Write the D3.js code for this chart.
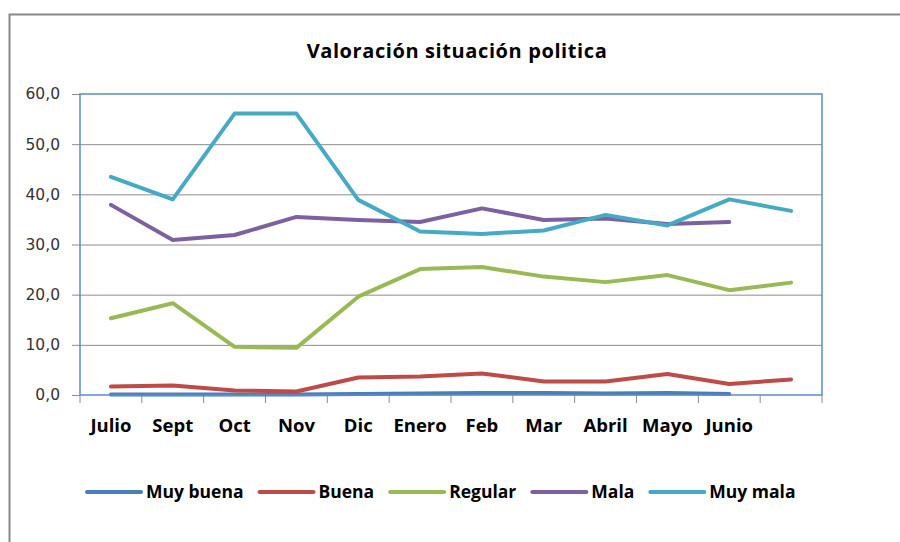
<!DOCTYPE html>
<html lang="es">
<head>
<meta charset="UTF-8">
<title>Valoración situación politica</title>
<script src="https://cdn.jsdelivr.net/npm/d3@7"></script>
<style>
    body { margin: 0; background: #fff; }
    svg { display: block; font-family: "Open Sans", Lato, sans-serif; }
</style>
</head>
<body>
<div id="chart"></div>
<script>
    const width = 900;
    const height = 542;

    // months on the x axis (last slot has no label)
    const months = ["Julio", "Sept", "Oct", "Nov", "Dic", "Enero", "Feb", "Mar", "Abril", "Mayo", "Junio", ""];
    const yTicks = [0, 10, 20, 30, 40, 50, 60];

    const muyBuena = [0.1, 0.1, 0.1, 0.1, 0.2, 0.3, 0.4, 0.4, 0.3, 0.4, 0.2];
    const buena    = [1.7, 1.9, 0.9, 0.7, 3.5, 3.7, 4.3, 2.7, 2.7, 4.2, 2.2, 3.1];
    const regular  = [15.3, 18.3, 9.6, 9.4, 19.6, 25.1, 25.5, 23.6, 22.5, 23.9, 20.9, 22.4];
    const mala     = [37.9, 30.9, 31.9, 35.5, 34.9, 34.5, 37.2, 34.9, 35.2, 34.1, 34.5];
    const muyMala  = [43.5, 39.0, 56.1, 56.1, 38.9, 32.6, 32.1, 32.8, 35.9, 33.8, 39.0, 36.7];

    const seriesNames = ["Muy buena", "Buena", "Regular", "Mala", "Muy mala"];
    const seriesColors = ["#4A7EBB", "#BE4B48", "#98B954", "#7D60A0", "#46AAC5"];
    const seriesValues = [muyBuena, buena, regular, mala, muyMala];

    const plot = { left: 80, right: 822, top: 94, bottom: 395 };

    const svg = d3.select("#chart").append("svg")
        .attr("width", width)
        .attr("height", height);

    // outer chart frame
    svg.append("rect")
        .attr("x", 9.5).attr("y", 14.5)
        .attr("width", 900).attr("height", 540)
        .attr("fill", "#fff")
        .attr("stroke", "#878787")
        .attr("stroke-width", 2);

    svg.append("text")
        .attr("x", 457).attr("y", 58)
        .attr("text-anchor", "middle")
        .attr("font-weight", "bold")
        .attr("font-size", 20)
        .attr("letter-spacing", 0.6)
        .attr("fill", "#000")
        .text("Valoración situación politica");

    const x = d3.scaleBand()
        .domain(months.map((m, i) => i))
        .range([plot.left, plot.right])
        .padding(0);

    const y = d3.scaleLinear()
        .domain([0, 60])
        .range([plot.bottom, plot.top]);

    // gridlines
    svg.append("g")
        .selectAll("line")
        .data(yTicks.slice(1, -1))
        .join("line")
        .attr("x1", plot.left).attr("x2", plot.right)
        .attr("y1", d => y(d) + 0.5).attr("y2", d => y(d) + 0.5)
        .attr("stroke", "#8C8C8C")
        .attr("stroke-width", 1);

    // y axis
    const yAxis = svg.append("g")
        .attr("transform", `translate(${plot.left},0)`)
        .call(d3.axisLeft(y).tickValues(yTicks).tickSize(8).tickPadding(12)
            .tickFormat(d => d3.format(".1f")(d).replace(".", ",")));
    yAxis.select(".domain").remove();
    yAxis.selectAll(".tick line").attr("stroke", "#8C8C8C");
    yAxis.selectAll("text")
        .attr("font-size", 15.5)
        .attr("fill", "#333")
        .attr("font-family", "\"DejaVu Sans\", sans-serif");

    // x tick marks at category edges
    const edges = months.map((m, i) => x(i)).concat([plot.right]);
    svg.append("g")
        .selectAll("line")
        .data(edges)
        .join("line")
        .attr("x1", d => d).attr("x2", d => d)
        .attr("y1", plot.bottom).attr("y2", plot.bottom + 8)
        .attr("stroke", "#8C8C8C");

    svg.append("g")
        .selectAll("text")
        .data(months)
        .join("text")
        .attr("x", (d, i) => x(i) + x.bandwidth() / 2)
        .attr("y", 432)
        .attr("text-anchor", "middle")
        .attr("font-weight", "bold")
        .attr("font-size", 18.5)
        .attr("fill", "#000")
        .text(d => d);

    // lines
    const line = d3.line()
        .x((d, i) => x(i) + x.bandwidth() / 2)
        .y(d => y(d));

    svg.append("g")
        .selectAll("path")
        .data(seriesValues)
        .join("path")
        .attr("d", d => line(d))
        .attr("fill", "none")
        .attr("stroke", (d, i) => seriesColors[i])
        .attr("stroke-width", 4)
        .attr("stroke-linejoin", "round")
        .attr("stroke-linecap", "round");

    // plot area border
    svg.append("rect")
        .attr("x", plot.left).attr("y", plot.top)
        .attr("width", plot.right - plot.left)
        .attr("height", plot.bottom - plot.top)
        .attr("fill", "none")
        .attr("stroke", "#5B8CC8")
        .attr("stroke-width", 1.5);

    // legend
    const legend = svg.append("g").attr("transform", "translate(0,492)");
    let lx = 87;
    seriesNames.forEach((name, i) => {
        legend.append("line")
            .attr("x1", lx).attr("x2", lx + 54)
            .attr("y1", 0).attr("y2", 0)
            .attr("stroke", seriesColors[i])
            .attr("stroke-width", 4)
            .attr("stroke-linecap", "round");
        const t = legend.append("text")
            .attr("x", lx + 59)
            .attr("y", 6)
            .attr("font-weight", "bold")
            .attr("font-size", 17.5)
            .attr("fill", "#000")
            .text(name);
        lx += 59 + t.node().getComputedTextLength() + 16;
    });
</script>
</body>
</html>
